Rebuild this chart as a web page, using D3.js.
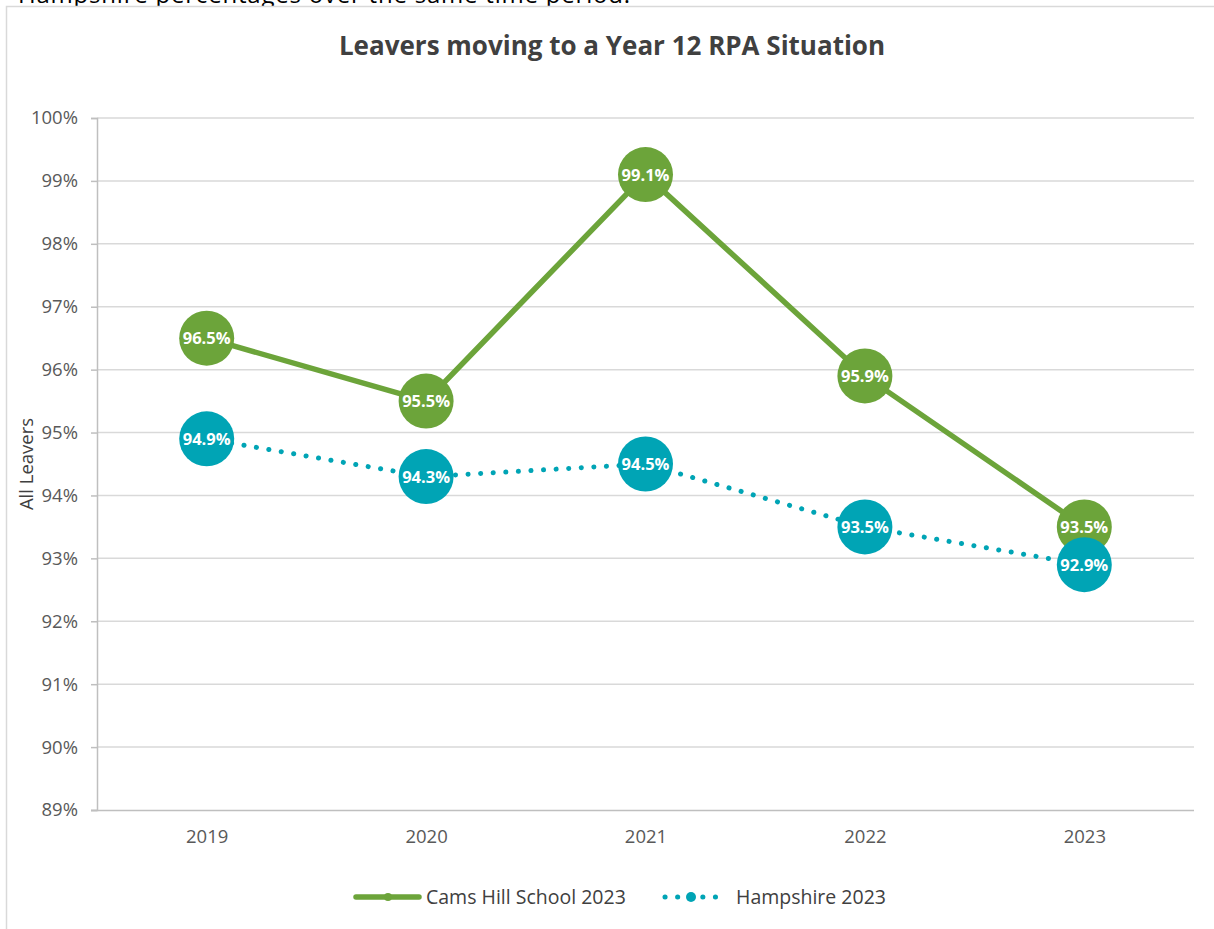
<!DOCTYPE html>
<html><head><meta charset="utf-8">
<script src="https://cdn.jsdelivr.net/npm/d3@7"></script>
<style>
html,body{margin:0;padding:0;background:#fff;overflow:hidden;}
svg{display:block;font-family:"Open Sans","Noto Sans",sans-serif;}
</style></head><body>
<svg id="c" width="1214" height="929"></svg>
<script>
const years = ["2019","2020","2021","2022","2023"];
const camsHill = [96.5, 95.5, 99.1, 95.9, 93.5];
const hampshire = [94.9, 94.3, 94.5, 93.5, 92.9];
const yTicks = [89,90,91,92,93,94,95,96,97,98,99,100];
const seriesNames = ["Cams Hill School 2023","Hampshire 2023"];
const colors = ["#6CA43A","#00A4B5"];
const FONT = "'Open Sans','Noto Sans',sans-serif";

const svg = d3.select("#c");
const m = {l:97, r:1194, t:118, b:810};

// intro text cut off at top (as in the reference)
svg.append("text").attr("x",18).attr("y",3).attr("font-size",24).attr("fill","#000")
  .attr("textLength",612).text("Hampshire percentages over the same time period.");

// chart border
svg.append("rect").attr("x",6.5).attr("y",6.5).attr("width",1230).attr("height",940)
  .attr("fill","#fff").attr("stroke","#d9d9d9").attr("stroke-width",1.5);

const x = d3.scalePoint().domain(years).range([m.l, m.r]).padding(0.5);
const y = d3.scaleLinear().domain([89,100]).range([m.b, m.t]);

// gridlines
svg.append("g").selectAll("line").data(yTicks.filter(d=>d>89)).join("line")
  .attr("x1",m.l).attr("x2",m.r).attr("y1",d=>y(d)).attr("y2",d=>y(d))
  .attr("stroke","#d9d9d9").attr("stroke-width",1.5);

// y axis
const ya = svg.append("g").attr("transform",`translate(${m.l},0)`)
  .call(d3.axisLeft(y).tickValues(yTicks).tickSize(6).tickPadding(13).tickFormat(d=>d+"%"));
ya.select(".domain").attr("stroke","#bfbfbf").attr("stroke-width",1.5);
ya.selectAll(".tick line").attr("stroke","#bfbfbf").attr("stroke-width",1.5);
ya.selectAll("text").attr("font-size",18.5).attr("fill","#595959").attr("font-family",FONT);

// x axis
const xa = svg.append("g").attr("transform",`translate(0,${m.b})`)
  .call(d3.axisBottom(x).tickSize(0).tickPadding(20));
xa.select(".domain").attr("stroke","#bfbfbf").attr("stroke-width",1.5).attr("d",`M${m.l-6},0.5H${m.r}`);
xa.selectAll("text").attr("font-size",18.5).attr("fill","#595959").attr("font-family",FONT);

// y label
svg.append("text").attr("transform",`translate(33,${(m.t+m.b)/2}) rotate(-90)`)
  .attr("text-anchor","middle").attr("font-size",18.5).attr("fill","#404040").text("All Leavers");

// title
svg.append("text").attr("x",612).attr("y",55).attr("text-anchor","middle")
  .attr("font-size",26).attr("font-weight","bold").attr("fill","#404040")
  .text("Leavers moving to a Year 12 RPA Situation");

const line = d3.line().x((d,i)=>x(years[i])).y(d=>y(d));

// hampshire line (dotted)
svg.append("path").attr("d",line(hampshire)).attr("fill","none").attr("stroke",colors[1])
  .attr("stroke-width",5).attr("stroke-linecap","round").attr("stroke-dasharray","0.1 12.5");
// cams hill line
svg.append("path").attr("d",line(camsHill)).attr("fill","none").attr("stroke",colors[0])
  .attr("stroke-width",5.5);

function markers(data,color){
  const g = svg.append("g");
  g.selectAll("circle").data(data).join("circle")
    .attr("cx",(d,i)=>x(years[i])).attr("cy",d=>y(d)).attr("r",27.5).attr("fill",color);
  g.selectAll("text").data(data).join("text")
    .attr("x",(d,i)=>x(years[i])).attr("y",d=>y(d)).attr("dy","0.36em")
    .attr("text-anchor","middle").attr("font-size",16.5).attr("font-weight","bold")
    .attr("fill","#fff").text(d=>d.toFixed(1)+"%");
}
markers(camsHill,colors[0]);
markers(hampshire,colors[1]);

// legend
const ly = 897;
const lg = svg.append("g");
lg.append("line").attr("x1",356).attr("x2",419).attr("y1",ly).attr("y2",ly)
  .attr("stroke",colors[0]).attr("stroke-width",5.5).attr("stroke-linecap","round");
lg.append("circle").attr("cx",388).attr("cy",ly).attr("r",4).attr("fill",colors[0]);
lg.append("text").attr("x",426).attr("y",ly).attr("dy","0.35em").attr("font-size",19.5).attr("fill","#404040").text(seriesNames[0]);
lg.append("line").attr("x1",665).attr("x2",717).attr("y1",ly).attr("y2",ly)
  .attr("stroke",colors[1]).attr("stroke-width",5).attr("stroke-linecap","round").attr("stroke-dasharray","0.1 12.5");
lg.append("circle").attr("cx",691).attr("cy",ly).attr("r",5).attr("fill",colors[1]);
lg.append("text").attr("x",736).attr("y",ly).attr("dy","0.35em").attr("font-size",19.5).attr("fill","#404040").text(seriesNames[1]);
</script>
</body></html>
